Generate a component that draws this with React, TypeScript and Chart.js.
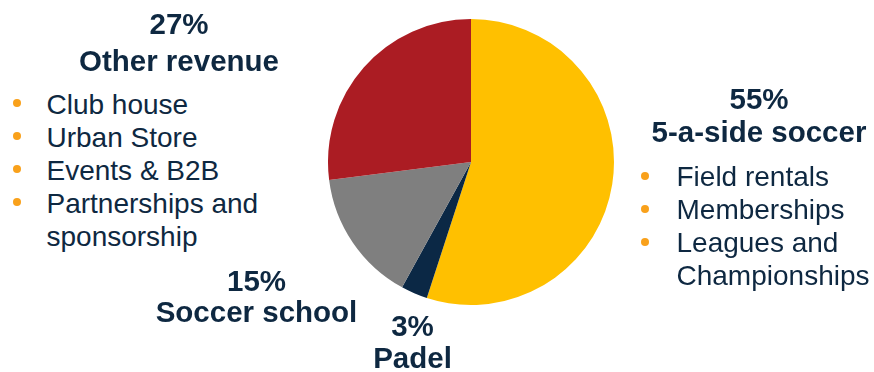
import React, { useEffect, useRef } from "react";
import { Chart, registerables } from "chart.js";

Chart.register(...registerables);

// ---- data ----
const segments = ["5-a-side soccer", "Padel", "Soccer school", "Other revenue"];
const shares = [55, 3, 15, 27];
const sliceColors = ["#FFC000", "#0B2845", "#7F7F7F", "#AB1C23"];

const otherItems = ["Club house", "Urban Store", "Events & B2B", "Partnerships and"];
const otherWrap = "sponsorship";
const soccerItems = ["Field rentals", "Memberships", "Leagues and"];
const soccerWrap = "Championships";

const NAVY = "#0E2841";
const ORANGE = "#F9A11B";
const FONT = '"Liberation Sans", Arial, Helvetica, sans-serif';
const SIZE = 28;
const BOLD_SIZE = 29.5;

function capTopToTop(capTop: number, size: number) {
  // line-height = 1.2 * size; cap top sits ~0.2305*size below box top
  return capTop - 0.2305 * size;
}

function Centered({ cx, capTop, text }: { cx: number; capTop: number; text: string }) {
  return (
    <div
      style={{
        position: "absolute",
        left: cx - 200,
        width: 400,
        top: capTopToTop(capTop, BOLD_SIZE),
        textAlign: "center",
        fontFamily: FONT,
        fontSize: BOLD_SIZE,
        lineHeight: `${BOLD_SIZE * 1.2}px`,
        fontWeight: 700,
        color: NAVY,
        whiteSpace: "nowrap",
      }}
    >
      {text}
    </div>
  );
}

function Line({ left, capTop, text }: { left: number; capTop: number; text: string }) {
  return (
    <div
      style={{
        position: "absolute",
        left,
        top: capTopToTop(capTop, SIZE),
        fontFamily: FONT,
        fontSize: SIZE,
        lineHeight: `${SIZE * 1.2}px`,
        color: NAVY,
        whiteSpace: "nowrap",
      }}
    >
      {text}
    </div>
  );
}

function Dot({ cx, cy }: { cx: number; cy: number }) {
  return (
    <div
      style={{
        position: "absolute",
        left: cx - 4,
        top: cy - 4,
        width: 8,
        height: 8,
        borderRadius: "50%",
        background: ORANGE,
      }}
    />
  );
}

export default function App() {
  const ref = useRef<HTMLCanvasElement | null>(null);

  useEffect(() => {
    if (!ref.current) return;
    const chart = new Chart(ref.current, {
      type: "pie",
      data: {
        labels: segments,
        datasets: [
          {
            data: shares,
            backgroundColor: sliceColors,
            borderWidth: 0,
            hoverOffset: 0,
          },
        ],
      },
      options: {
        responsive: false,
        animation: false,
        layout: { padding: 2 },
        plugins: { legend: { display: false }, tooltip: { enabled: false } },
      },
    });
    return () => chart.destroy();
  }, []);

  const otherTop = 94;
  const soccerTop = 166.5;
  const step = 33.1;

  return (
    <div style={{ position: "absolute", left: 0, top: 0, width: 874, height: 372, background: "#fff", overflow: "hidden" }}>
      <canvas ref={ref} width={290} height={290} style={{ position: "absolute", left: 326, top: 17, width: 290, height: 290 }} />

      <Centered cx={179} capTop={13} text={`${shares[3]}%`} />
      <Centered cx={179} capTop={49.5} text={segments[3]} />
      {otherItems.map((t, i) => (
        <React.Fragment key={t}>
          <Dot cx={16.7} cy={otherTop + i * step + 9} />
          <Line left={46.5} capTop={otherTop + i * step} text={t} />
        </React.Fragment>
      ))}
      <Line left={46.5} capTop={otherTop + 4 * step} text={otherWrap} />

      <Centered cx={759} capTop={87.8} text={`${shares[0]}%`} />
      <Centered cx={759} capTop={121.2} text={segments[0]} />
      {soccerItems.map((t, i) => (
        <React.Fragment key={t}>
          <Dot cx={645} cy={soccerTop + i * step + 9} />
          <Line left={676.5} capTop={soccerTop + i * step} text={t} />
        </React.Fragment>
      ))}
      <Line left={676.5} capTop={soccerTop + 3 * step} text={soccerWrap} />

      <Centered cx={256.5} capTop={269.5} text={`${shares[2]}%`} />
      <Centered cx={256.5} capTop={301.2} text={segments[2]} />

      <Centered cx={412.5} capTop={314.5} text={`${shares[1]}%`} />
      <Centered cx={412.5} capTop={346.3} text={segments[1]} />
    </div>
  );
}
